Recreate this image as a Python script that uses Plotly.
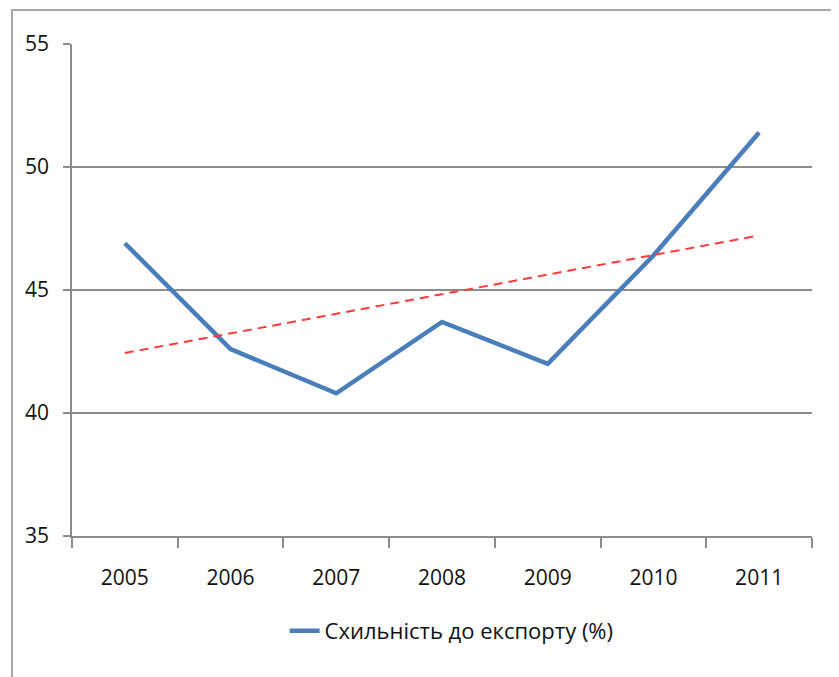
import numpy as np
import plotly.graph_objects as go

years = ["2005", "2006", "2007", "2008", "2009", "2010", "2011"]
values = [46.9, 42.6, 40.8, 43.7, 42.0, 46.4, 51.4]
series_name = "Схильність до експорту (%)"
y_ticks = [35, 40, 45, 50, 55]

idx = np.arange(len(years))
slope, intercept = np.polyfit(idx, values, 1)
trend = (slope * idx + intercept).tolist()

fig = go.Figure()
fig.add_trace(go.Scatter(
    x=years, y=values, mode="lines", name=series_name,
    line=dict(color="#4A7EBB", width=4.5),
))
fig.add_trace(go.Scatter(
    x=years, y=trend, mode="lines", showlegend=False,
    line=dict(color="#FF3B3B", width=2, dash="9px,6px"),
))

axis_color = "#8C8C8C"
font_family = "Open Sans, Carlito, Liberation Sans, sans-serif"

fig.update_layout(
    width=831, height=669,
    margin=dict(l=64, r=27, t=36, b=141),
    paper_bgcolor="white", plot_bgcolor="white",
    font=dict(family=font_family, size=21, color="#111111"),
    showlegend=True,
    legend=dict(orientation="h", x=0.513, xanchor="center", y=-0.193, yanchor="middle",
                font=dict(size=22), bgcolor="rgba(0,0,0,0)"),
    xaxis=dict(
        type="category", categoryorder="array", categoryarray=years,
        range=[-0.5, 6.5], showgrid=False, showline=True, linecolor=axis_color, linewidth=1.5,
        ticks="outside", tickson="boundaries", ticklen=10, tickcolor=axis_color, tickwidth=1.5,
        ticklabelstandoff=22, tickfont=dict(size=21),
    ),
    yaxis=dict(
        range=[35, 55], tickvals=y_ticks, showgrid=True, gridcolor=axis_color, gridwidth=1.5,
        showline=True, linecolor=axis_color, linewidth=1.5, zeroline=False,
        ticks="outside", ticklen=7, tickcolor=axis_color, tickwidth=1.5,
        ticklabelstandoff=10, tickfont=dict(size=21),
    ),
    shapes=[dict(
        type="rect", xref="paper", yref="paper",
        x0=(12 - 72) / 740, x1=1.2, y0=-0.5, y1=(536 - 10) / 492,
        line=dict(color="#A6A6A6", width=2), fillcolor="rgba(0,0,0,0)", layer="below",
    )],
)

fig.write_html("out.html")
